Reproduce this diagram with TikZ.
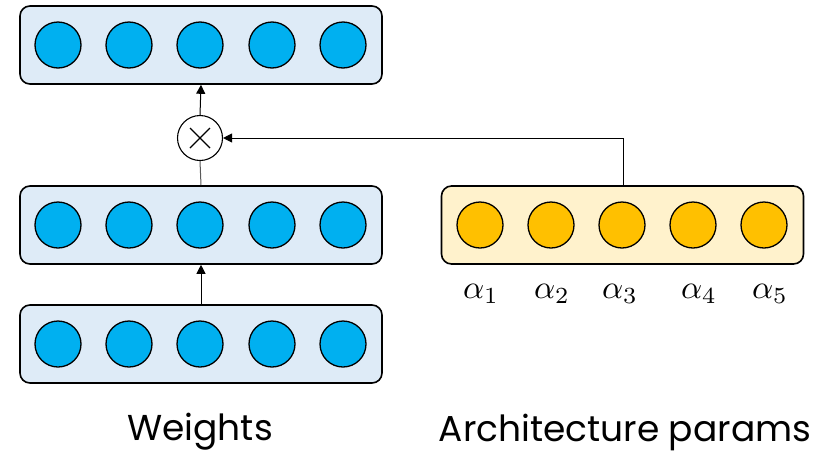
\documentclass[tikz,border=0pt]{standalone}
\usepackage{graphicx}
\usepackage{fontspec}
\setmainfont{Poppins}
\usetikzlibrary{arrows.meta}
\definecolor{wblue}{HTML}{00B0F0}
\definecolor{wbox}{HTML}{DEEBF7}
\definecolor{ayel}{HTML}{FFC000}
\definecolor{abox}{HTML}{FFF2CC}
\definecolor{conn}{HTML}{595959}
\newcommand{\alphalabel}[1]{\scalebox{3.3}{$\alpha_{#1}$}}
\tikzset{
  layerbox/.style={draw=black, line width=1.6pt, rounded corners=10pt, minimum width=362pt, minimum height=78pt, inner sep=0pt},
  unit/.style={circle, draw=black, line width=1.3pt, minimum size=46pt, inner sep=0pt},
  wunit/.style={unit, fill=wblue},
  aunit/.style={unit, fill=ayel},
  link/.style={draw=conn, line width=1pt},
  tip/.style={-{Triangle[length=9pt,width=9pt]}, black},
  caption/.style={font=\fontsize{36}{40}\selectfont, inner sep=0pt},
  alab/.style={inner sep=0pt}
}
\begin{document}
\begin{tikzpicture}[x=1pt, y=-1pt]
  \useasboundingbox (0,0) rectangle (826,453);

  % weight layers
  \node[layerbox, fill=wbox] (top) at (201,45) {};
  \node[layerbox, fill=wbox] (mid) at (201,225) {};
  \node[layerbox, fill=wbox] (bot) at (201,344) {};
  \foreach \name/\y in {t/45, m/225, b/344} {
    \foreach \i/\x in {1/58, 2/129, 3/200, 4/272, 5/343} {
      \node[wunit] (\name\i) at (\x,\y) {};
    }
  }

  % architecture parameters
  \node[layerbox, fill=abox] (arch) at (622.5,225) {};
  \foreach \i/\x/\lx in {1/480/481, 2/551/552, 3/622/620, 4/693/699, 5/764/770} {
    \node[aunit] (a\i) at (\x,225) {};
    \node[alab] (l\i) at (\lx,294) {\alphalabel{\i}};
  }

  % multiplication
  \node[circle, draw=black, line width=1.1pt, fill=white, minimum size=45pt, inner sep=0pt] (mul) at (200,138) {};
  \draw[black, line width=1.3pt] ([shift={(-10,-10)}]mul.center) -- ([shift={(10,10)}]mul.center)
                                 ([shift={(-10,10)}]mul.center) -- ([shift={(10,-10)}]mul.center);

  % connectors
  \draw[link] (mid.north) -- (mul.south);
  \draw[link, tip] (mul.north) -- (top.south);
  \draw[link, tip] (bot.north) -- (mid.south);
  \coordinate (turn) at (623,138);
  \draw[link, tip] (arch.north -| turn) -- (turn) -- (mul.east);

  % captions
  \node[caption] (wcap) at (200,432) {Weights};
  \node[caption] (acap) at (625,432) {Architecture params};
\end{tikzpicture}
\end{document}
